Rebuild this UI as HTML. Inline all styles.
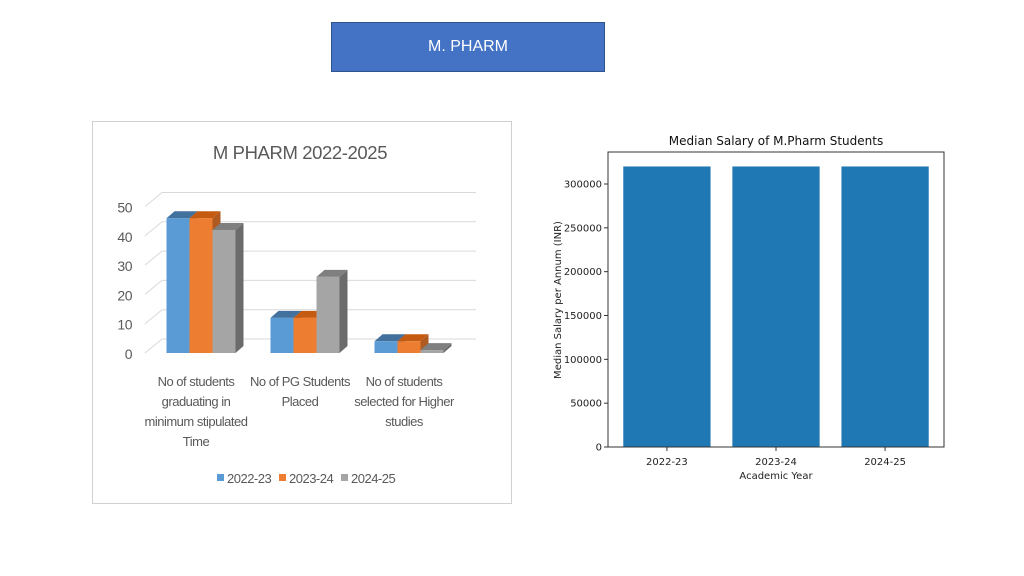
<!DOCTYPE html>
<html><head><meta charset="utf-8">
<style>
html,body{margin:0;padding:0;background:#fff;width:1024px;height:576px;overflow:hidden;font-family:"Liberation Sans",sans-serif;}
#hdr{position:absolute;left:331px;top:22px;width:272px;height:48px;background:#4472C4;border:1px solid #2f528f;color:#fff;font-size:16px;display:flex;align-items:center;justify-content:center;}
#panel{position:absolute;left:92px;top:121px;width:418px;height:381px;border:1px solid #d0d0d0;background:#fff;}
svg{position:absolute;left:0;top:0;}
</style></head>
<body>
<div id="hdr">M. PHARM</div>
<div id="panel"></div>
<svg id="s" width="1024" height="576"></svg>
<script>
// Left chart data
const leftCategories=[["No of students","graduating in","minimum stipulated","Time"],["No of PG Students","Placed"],["No of students","selected for Higher","studies"]];
const series2223=[46,12,4];
const series2324=[46,12,4];
const series2425=[42,26,1];
const leftSeriesNames=["2022-23","2023-24","2024-25"];
const leftTicks=[0,10,20,30,40,50];
// Right chart data
const rightCategories=["2022-23","2023-24","2024-25"];
const salaryValues=[320000,320000,320000];
const rightTicks=[0,50000,100000,150000,200000,250000,300000];

const NS="http://www.w3.org/2000/svg";
const svg=document.getElementById('s');
function mk(tag,attrs,text){const e=document.createElementNS(NS,tag);for(const k in attrs)e.setAttribute(k,attrs[k]);if(text!==undefined)e.textContent=text;svg.appendChild(e);return e;}

// ---- Left 3D chart ----
const base=353, scale=2.93, dx=8, dy=-7;
const ly=v=>base-v*scale;
const groupX=i=>201+i*104;
let t=mk('text',{x:300,y:159,'font-size':18.5,fill:'#595959','text-anchor':'middle','letter-spacing':'-0.4'},'M PHARM 2022-2025');


leftTicks.forEach(v=>{
  const y=ly(v);
  let g=mk('polyline',{points:`${145},${y} ${162},${y-14} ${476},${y-14}`,fill:'none',stroke:'#d9d9d9','stroke-width':1});
  
  
  let l=mk('text',{x:132,y:y+6,'font-size':14,fill:'#595959','text-anchor':'end','letter-spacing':'-0.5'},String(v));
  
  
});
const fronts=['#5b9bd5','#ed7d31','#a5a5a5'];
const tops=['#41719c','#c55a11','#7f7f7f'];
const sides=['#41719c','#ae5a21','#6b6b6b'];
const allSeries=[series2223,series2324,series2425];
const bw=23;
for(let i=0;i<3;i++){
  for(let s=0;s<3;s++){
    const v=allSeries[s][i];
    const x0=groupX(i)-34.5+s*bw, y0=ly(v), x1=x0+bw;
    let side=mk('polygon',{points:`${x1},${base} ${x1+dx},${base+dy} ${x1+dx},${y0+dy} ${x1},${y0}`,fill:sides[s]});
    
    
    let top=mk('polygon',{points:`${x0},${y0} ${x0+dx},${y0+dy} ${x1+dx},${y0+dy} ${x1},${y0}`,fill:tops[s]});
    
    
    let r=mk('rect',{x:x0,y:y0,width:bw,height:base-y0,fill:fronts[s]});
    
    
  }
  leftCategories[i].forEach((line,k)=>{
    let c=mk('text',{x:groupX(i)-5,y:386+k*20,'font-size':13,fill:'#595959','text-anchor':'middle','letter-spacing':'-0.5'},line);
    
    
  });
}
leftSeriesNames.forEach((n,s)=>{
  const lx=217+s*62;
  let sq=mk('rect',{x:lx,y:474,width:7,height:7,fill:fronts[s]});
  
  
  let lt=mk('text',{x:lx+10,y:483,'font-size':13,fill:'#595959','letter-spacing':'-0.5'},n);
  
  
});

// ---- Right matplotlib chart ----
const ax0=608, ax1=944, ay0=152, ay1=447;
const ryS=v=>ay1-v*(263/300000);
const rx=i=>ax0+(i+0.54)*(336/3.08);
salaryValues.forEach((v,i)=>{
  const w=0.8*336/3.08;
  let b=mk('rect',{x:rx(i)-w/2,y:ryS(v),width:w,height:ay1-ryS(v),fill:'#1f77b4'});
  
  
  let tk=mk('line',{x1:rx(i),x2:rx(i),y1:ay1,y2:ay1+4,stroke:'#333'});
  
  
  let tl=mk('text',{x:rx(i),y:ay1+18,'font-size':10,fill:'#222','text-anchor':'middle','font-family':'DejaVu Sans'},rightCategories[i]);
  
  
});
rightTicks.forEach(v=>{
  const y=ryS(v);
  let tk=mk('line',{x1:ax0-4,x2:ax0,y1:y,y2:y,stroke:'#333'});
  
  
  let tl=mk('text',{x:ax0-6,y:y+3.5,'font-size':10,fill:'#222','text-anchor':'end','font-family':'DejaVu Sans'},String(v));
  
  
});
let fr=mk('rect',{x:ax0,y:ay0,width:ax1-ax0,height:ay1-ay0,fill:'none',stroke:'#333','stroke-width':1});


let rt=mk('text',{x:776,y:145,'font-size':12,fill:'#111','text-anchor':'middle','font-family':'DejaVu Sans'},'Median Salary of M.Pharm Students');


let xt=mk('text',{x:776,y:479,'font-size':10,fill:'#222','text-anchor':'middle','font-family':'DejaVu Sans'},'Academic Year');


let yt=mk('text',{x:0,y:0,'font-size':10,fill:'#222','text-anchor':'middle','font-family':'DejaVu Sans',transform:'translate(561,300) rotate(-90)'},'Median Salary per Annum (INR)');


</script>
</body></html>
